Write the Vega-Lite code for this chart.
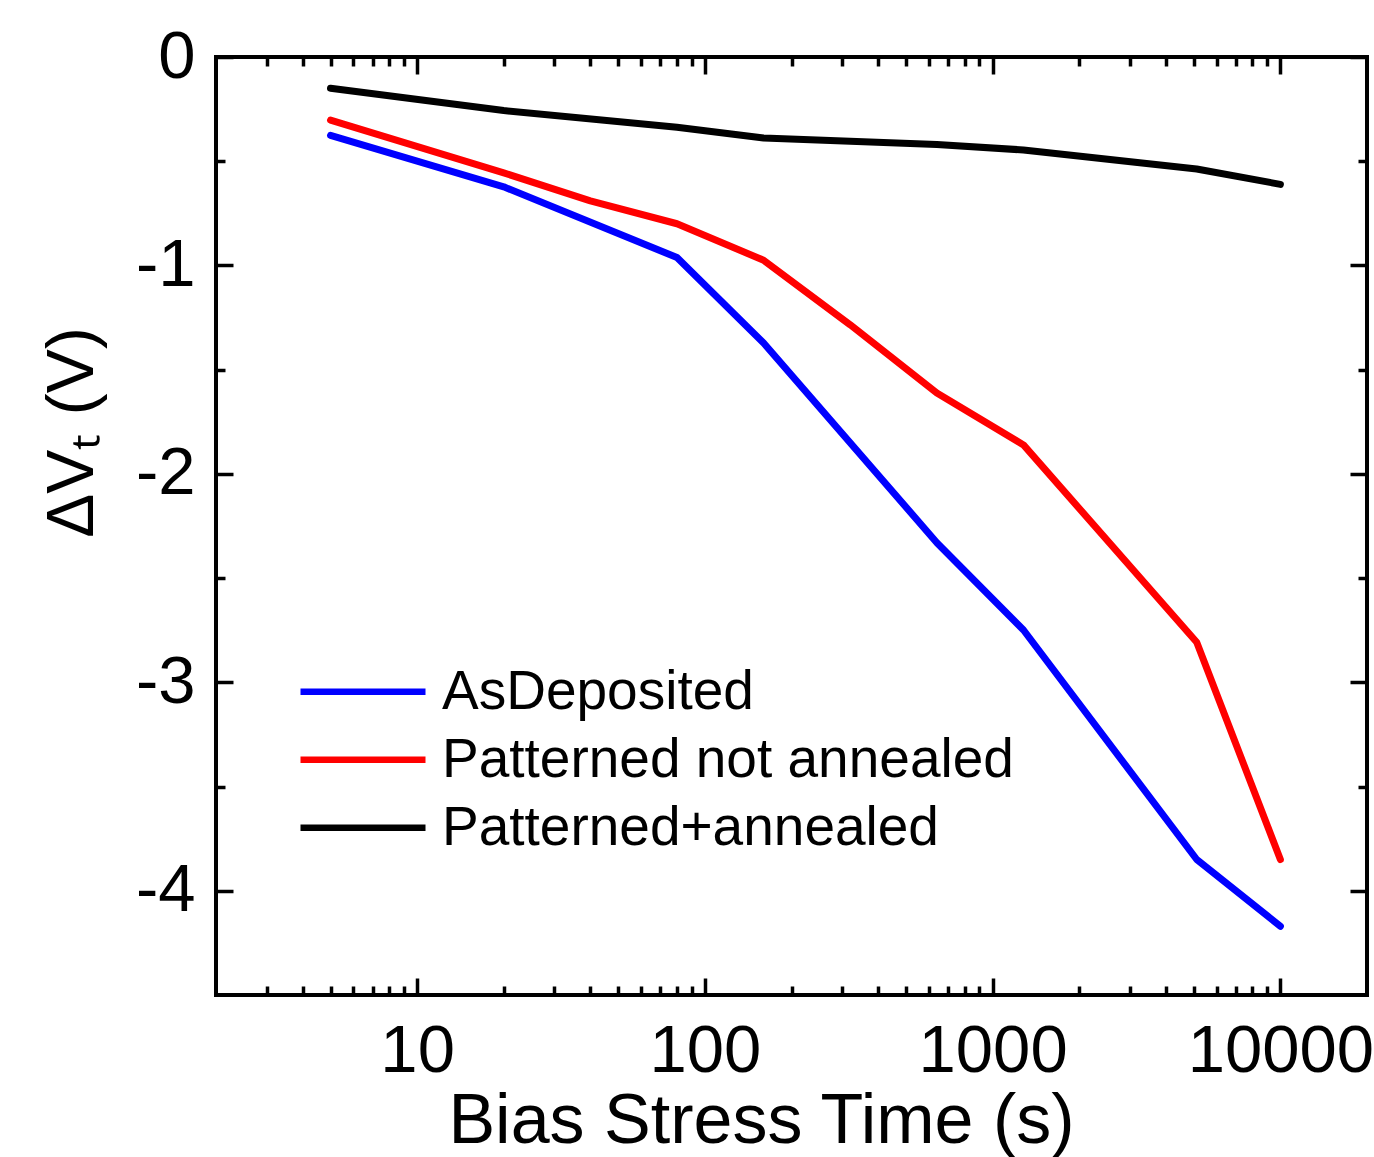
{
  "$schema": "https://vega.github.io/schema/vega-lite/v6.json",
  "width": 1151,
  "height": 938,
  "autosize": {"type": "none"},
  "padding": {"left": 216, "top": 57, "right": 7, "bottom": 162},
  "background": "white",
  "config": {
    "font": "Liberation Sans",
    "view": {"stroke": "black", "strokeWidth": 4},
    "axis": {"grid": false, "domain": false, "ticks": false, "labels": false, "tickColor": "black", "tickWidth": 3.5, "labelColor": "black", "titleColor": "black"}
  },
  "data": {
    "values": [
      {"time": 5, "dvt": -0.376, "sample": "AsDeposited"},
      {"time": 20, "dvt": -0.623, "sample": "AsDeposited"},
      {"time": 80, "dvt": -0.962, "sample": "AsDeposited"},
      {"time": 160, "dvt": -1.372, "sample": "AsDeposited"},
      {"time": 640, "dvt": -2.33, "sample": "AsDeposited"},
      {"time": 1280, "dvt": -2.749, "sample": "AsDeposited"},
      {"time": 5120, "dvt": -3.85, "sample": "AsDeposited"},
      {"time": 10000, "dvt": -4.17, "sample": "AsDeposited"},
      {"time": 5, "dvt": -0.303, "sample": "Patterned not annealed"},
      {"time": 20, "dvt": -0.556, "sample": "Patterned not annealed"},
      {"time": 40, "dvt": -0.69, "sample": "Patterned not annealed"},
      {"time": 80, "dvt": -0.8, "sample": "Patterned not annealed"},
      {"time": 160, "dvt": -0.975, "sample": "Patterned not annealed"},
      {"time": 320, "dvt": -1.285, "sample": "Patterned not annealed"},
      {"time": 640, "dvt": -1.612, "sample": "Patterned not annealed"},
      {"time": 1280, "dvt": -1.861, "sample": "Patterned not annealed"},
      {"time": 5120, "dvt": -2.808, "sample": "Patterned not annealed"},
      {"time": 10000, "dvt": -3.85, "sample": "Patterned not annealed"},
      {"time": 5, "dvt": -0.15, "sample": "Patterned+annealed"},
      {"time": 20, "dvt": -0.257, "sample": "Patterned+annealed"},
      {"time": 80, "dvt": -0.337, "sample": "Patterned+annealed"},
      {"time": 160, "dvt": -0.389, "sample": "Patterned+annealed"},
      {"time": 640, "dvt": -0.42, "sample": "Patterned+annealed"},
      {"time": 1280, "dvt": -0.446, "sample": "Patterned+annealed"},
      {"time": 5120, "dvt": -0.537, "sample": "Patterned+annealed"},
      {"time": 10000, "dvt": -0.611, "sample": "Patterned+annealed"}
    ]
  },
  "layer": [
    {
      "mark": {"type": "line", "strokeWidth": 7, "strokeCap": "round", "strokeJoin": "round", "clip": true},
      "encoding": {
        "x": {
          "field": "time", "type": "quantitative",
          "scale": {"type": "log", "domain": [2, 20000], "nice": false},
          "axis": {
            "orient": "bottom", "values": [10, 100, 1000, 10000], "labels": true,
            "labelExpr": "'' + datum.value", "labelFontSize": 67, "labelPadding": 23, "labelLimit": 0,
            "labelFlush": false, "labelOverlap": false,
            "title": "Bias Stress Time (s)", "titleFontSize": 70, "titleFontWeight": "normal",
            "titleX": 545, "titleY": 147, "titleBaseline": "alphabetic", "titleAlign": "center", "titleAnchor": null, "titleLimit": 0
          }
        },
        "y": {
          "field": "dvt", "type": "quantitative",
          "scale": {"domain": [-4.5, 0], "nice": false, "zero": false},
          "axis": {
            "orient": "left", "values": [0, -1, -2, -3, -4], "labels": true,
            "labelExpr": "'' + datum.value", "labelFontSize": 67, "labelPadding": 21, "labelLimit": 0,
            "labelFlush": false, "labelOverlap": false,
            "title": "ΔVₜ (V)", "titleFontSize": 66, "titleFontWeight": "normal",
            "titleX": -124, "titleY": 375, "titleBaseline": "alphabetic", "titleAlign": "center", "titleAngle": -90, "titleLimit": 0
          }
        },
        "color": {
          "field": "sample", "type": "nominal",
          "scale": {"domain": ["AsDeposited", "Patterned not annealed", "Patterned+annealed"], "range": ["#0000ff", "#ff0000", "#000000"]},
          "legend": {
            "orient": "none", "legendX": 81, "legendY": 601, "title": null,
            "symbolType": "stroke", "symbolSize": 15625, "symbolStrokeWidth": 6.5,
            "labelFontSize": 55, "labelOffset": 13, "labelLimit": 0, "labelColor": "black",
            "clipHeight": 67.5, "rowPadding": 0, "padding": 0
          }
        }
      }
    },
    {
      "mark": {"type": "point", "opacity": 0},
      "encoding": {
        "x": {"field": "time", "type": "quantitative", "axis": {"orient": "bottom", "ticks": true, "tickSize": 9, "offset": -9, "title": null, "values": [3,4,5,6,7,8,9,20,30,40,50,60,70,80,90,200,300,400,500,600,700,800,900,2000,3000,4000,5000,6000,7000,8000,9000]}},
        "y": {"field": "dvt", "type": "quantitative", "axis": {"orient": "left", "ticks": true, "tickSize": 9, "offset": -9, "title": null, "values": [-0.5, -1.5, -2.5, -3.5]}}
      }
    },
    {
      "mark": {"type": "point", "opacity": 0},
      "encoding": {
        "x": {"field": "time", "type": "quantitative", "axis": {"orient": "bottom", "ticks": true, "tickSize": 17, "offset": -17, "title": null, "values": [10, 100, 1000, 10000]}},
        "y": {"field": "dvt", "type": "quantitative", "axis": {"orient": "left", "ticks": true, "tickSize": 17, "offset": -17, "title": null, "values": [0, -1, -2, -3, -4]}}
      }
    },
    {
      "mark": {"type": "point", "opacity": 0},
      "encoding": {
        "x": {"field": "time", "type": "quantitative", "axis": {"orient": "top", "ticks": true, "tickSize": 17, "offset": -17, "title": null, "values": [10, 100, 1000, 10000]}},
        "y": {"field": "dvt", "type": "quantitative", "axis": {"orient": "right", "ticks": true, "tickSize": 17, "offset": -17, "title": null, "values": [0, -1, -2, -3, -4]}}
      }
    },
    {
      "mark": {"type": "point", "opacity": 0},
      "encoding": {
        "x": {"field": "time", "type": "quantitative", "axis": {"orient": "top", "ticks": true, "tickSize": 9, "offset": -9, "title": null, "values": [3,4,5,6,7,8,9,20,30,40,50,60,70,80,90,200,300,400,500,600,700,800,900,2000,3000,4000,5000,6000,7000,8000,9000]}},
        "y": {"field": "dvt", "type": "quantitative", "axis": {"orient": "right", "ticks": true, "tickSize": 9, "offset": -9, "title": null, "values": [-0.5, -1.5, -2.5, -3.5]}}
      }
    }
  ],
  "resolve": {"axis": {"x": "independent", "y": "independent"}}
}
